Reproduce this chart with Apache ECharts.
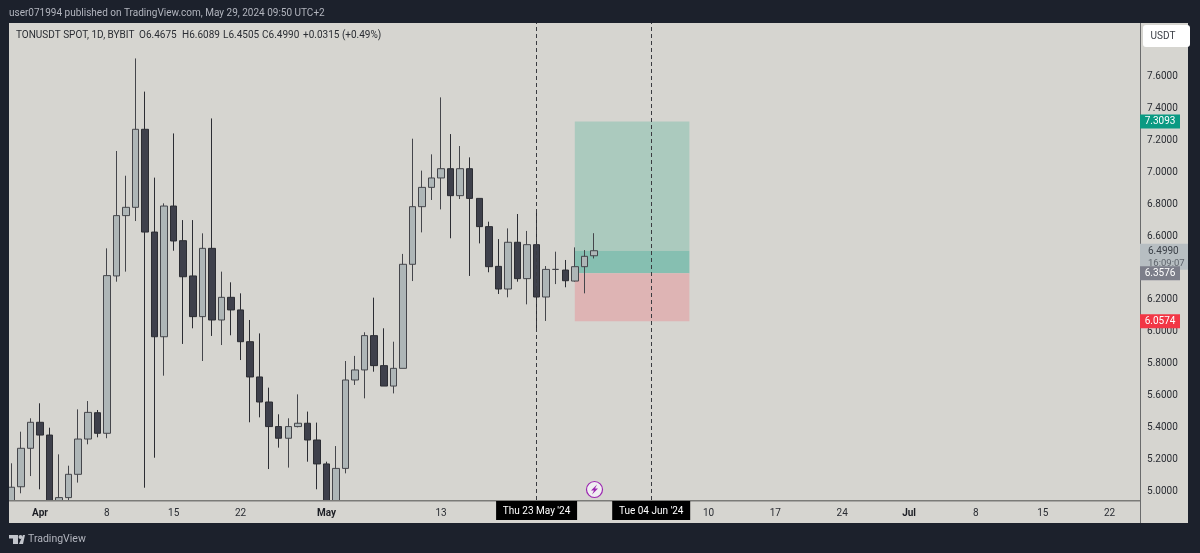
<!DOCTYPE html>
<html>

<head>
  <meta charset="UTF-8">
  <title>TONUSDT SPOT, 1D, BYBIT</title>
  <script src="https://cdn.jsdelivr.net/npm/echarts@6/dist/echarts.min.js"></script>
  <style>
    * {
      box-sizing: border-box;
    }

    body {
      margin: 0;
      padding: 0;
      background: #1c212c;
    }

    #chart {
      width: 1200px;
      height: 553px;
    }
  </style>
</head>

<body>
  <div id="chart"></div>

  <script>
    // daily candles, first one is 29 Mar 2024
    var opens = [4.86, 5.020, 5.261, 5.424, 5.344, 4.90, 4.952, 5.098, 5.319, 5.484, 5.355, 6.341, 6.719, 6.771, 7.260, 6.616, 5.960, 6.779, 6.562, 6.341, 6.086, 6.514, 6.065, 6.207, 6.128, 5.929, 5.708, 5.551, 5.397, 5.324, 5.397, 5.418, 5.313, 5.163, 4.91, 5.135, 5.689, 5.752, 5.967, 5.779, 5.651, 5.762, 6.414, 6.775, 6.896, 6.955, 7.013, 6.844, 7.013, 6.827, 6.650, 6.401, 6.259, 6.552, 6.324, 6.537, 6.209, 6.382, 6.378, 6.309, 6.399, 6.4675];
    var closes = [5.017, 5.261, 5.424, 5.344, 4.90, 4.952, 5.098, 5.319, 5.486, 5.355, 6.343, 6.719, 6.771, 7.260, 6.616, 5.960, 6.779, 6.560, 6.336, 6.086, 6.514, 6.065, 6.207, 6.128, 5.929, 5.708, 5.551, 5.397, 5.324, 5.397, 5.418, 5.313, 5.163, 4.91, 5.135, 5.689, 5.752, 5.967, 5.779, 5.651, 5.762, 6.414, 6.775, 6.896, 6.955, 7.013, 6.844, 7.013, 6.827, 6.650, 6.399, 6.259, 6.552, 6.324, 6.537, 6.209, 6.382, 6.382, 6.311, 6.399, 6.464, 6.4990];
    var lows = [4.80, 4.979, 5.087, 5.004, 4.85, 4.85, 4.931, 5.046, 5.286, 5.330, 5.324, 6.305, 6.368, 6.685, 5.014, 5.202, 5.716, 6.499, 5.915, 6.013, 5.808, 5.965, 5.908, 5.969, 5.814, 5.424, 5.455, 5.131, 5.265, 5.140, 5.392, 5.177, 5.004, 4.88, 4.88, 5.104, 5.658, 5.574, 5.741, 5.651, 5.605, 5.762, 6.309, 6.614, 6.817, 6.758, 6.577, 6.823, 6.341, 6.545, 6.364, 6.228, 6.207, 6.305, 6.163, 5.998, 6.059, 6.290, 6.270, 6.305, 6.232, 6.4505];
    var highs = [5.167, 5.365, 5.449, 5.543, 5.390, 5.223, 5.152, 5.505, 5.557, 5.501, 6.514, 7.124, 6.969, 7.704, 7.496, 6.957, 6.796, 7.234, 6.691, 6.691, 6.608, 7.328, 6.368, 6.301, 6.232, 6.065, 5.981, 5.641, 5.474, 5.449, 5.599, 5.491, 5.422, 5.177, 5.275, 5.808, 5.840, 5.988, 6.205, 6.013, 5.929, 6.479, 7.201, 7.001, 7.103, 7.460, 7.230, 7.155, 7.084, 6.827, 6.681, 6.572, 6.639, 6.729, 6.623, 6.744, 6.403, 6.493, 6.441, 6.520, 6.503, 6.6089];

    var priceTicks = [5.0, 5.2, 5.4, 5.6, 5.8, 6.0, 6.2, 6.4, 6.6, 6.8, 7.0, 7.2, 7.4, 7.6];
    var timeTickDates = ['2024-04-01', '2024-04-08', '2024-04-15', '2024-04-22', '2024-05-01', '2024-05-13', '2024-06-10', '2024-06-17', '2024-06-24', '2024-07-01', '2024-07-08', '2024-07-15', '2024-07-22'];
    var timeTickLabels = ['Apr', '8', '15', '22', 'May', '13', '10', '17', '24', 'Jul', '8', '15', '22'];

    // legend line pieces
    var legendTexts = ['TONUSDT SPOT, 1D, BYBIT', 'O6.4675', 'H6.6089', 'L6.4505', 'C6.4990', '+0.0315 (+0.49%)'];
    var legendLefts = [16, 139, 182, 223, 262, 303];

    // long position tool
    var targetPrice = 7.3093;
    var entryPrice = 6.3576;
    var stopPrice = 6.0574;
    var lastPrice = 6.4990;
    var positionDates = ['2024-05-27', '2024-06-08'];

    var crosshairDates = ['2024-05-23', '2024-06-04'];
    var crosshairTexts = ["Thu 23 May '24", "Tue 04 Jun '24"];

    var badgePrices = [targetPrice, entryPrice, stopPrice];
    var badgeTexts = ['7.3093', '6.3576', '6.0574'];
    var badgeColors = ['#0a9a82', '#7c7e8a', '#f23645'];

    var font = 'Roboto, sans-serif';
    var dates = [];
    for (var i = 0; i < 119; i++) {
      dates.push(new Date(Date.UTC(2024, 2, 29 + i)).toISOString().slice(0, 10));
    }
    var candles = opens.map(function (o, i) {
      return [o, closes[i], lows[i], highs[i]];
    });

    var chart = echarts.init(document.getElementById('chart'), null, { renderer: 'canvas' });

    function renderPriceBadge(params, api) {
      var y = api.coord([0, api.value(1)])[1];
      var x = 1140;
      return {
        type: 'group',
        children: [
          { type: 'rect', shape: { x: x, y: y - 7, width: 40, height: 14 }, style: { fill: badgeColors[params.dataIndex] } },
          { type: 'text', style: { x: x + 20, y: y + 0.5, text: badgeTexts[params.dataIndex], fill: '#fff', font: '10px ' + font, align: 'center', verticalAlign: 'middle' } }
        ]
      };
    }

    function renderLastBadge(params, api) {
      var y = api.coord([0, api.value(1)])[1];
      var x = 1140;
      return {
        type: 'group',
        children: [
          { type: 'rect', shape: { x: x, y: y - 7, width: 48, height: 26 }, style: { fill: '#b7bec2' } },
          { type: 'text', style: { x: x + 8, y: y + 0.5, text: lastPrice.toFixed(4), fill: '#3b4048', font: '10px ' + font, verticalAlign: 'middle' } },
          { type: 'text', style: { x: x + 8, y: y + 12.5, text: '16:09:07', fill: '#5d636b', font: '9.5px ' + font, verticalAlign: 'middle' } }
        ]
      };
    }

    function renderDateBadge(params, api) {
      var x = api.coord([api.value(0), 5])[0];
      var w = params.dataIndex === 0 ? 81 : 78;
      return {
        type: 'group',
        children: [
          { type: 'rect', shape: { x: x - w / 2, y: 501, width: w, height: 19 }, style: { fill: '#000' } },
          { type: 'text', style: { x: x, y: 511, text: crosshairTexts[params.dataIndex], fill: '#fff', font: '10px ' + font, align: 'center', verticalAlign: 'middle' } }
        ]
      };
    }

    var legendElements = legendTexts.map(function (t, i) {
      return { type: 'text', z: 101, style: { x: legendLefts[i], y: 35.5, text: t, fill: '#2a2d33', font: '10px ' + font, verticalAlign: 'middle' } };
    });

    var option = {
      animation: false,
      backgroundColor: '#d6d5d0',
      grid: { left: 6.575, width: 1136.45, top: 23, height: 477 },
      xAxis: {
        type: 'category',
        data: dates,
        boundaryGap: true,
        z: 50,
        axisLine: { show: false },
        axisTick: { show: false },
        splitLine: { show: false },
        axisLabel: {
          margin: 8,
          color: '#2a2d33',
          fontSize: 10,
          fontFamily: font,
          interval: function (index, value) {
            return timeTickDates.indexOf(value) >= 0;
          },
          formatter: function (value) {
            var label = timeTickLabels[timeTickDates.indexOf(value)];
            return /[A-Za-z]/.test(label) ? '{b|' + label + '}' : label;
          },
          rich: { b: { fontWeight: 'bold', fontSize: 10, color: '#1c1e24', fontFamily: font } }
        }
      },
      yAxis: {
        type: 'value',
        position: 'right',
        scale: true,
        min: 4.937,
        max: 7.926,
        axisLine: { show: false },
        axisTick: { show: false },
        splitLine: { show: false },
        axisLabel: {
          margin: 4,
          customValues: priceTicks,
          formatter: function (value) {
            return '{p|' + value.toFixed(4) + '}';
          },
          rich: { p: { color: '#2a2d33', fontSize: 10, fontFamily: font, padding: [3, 0, 0, 0] } }
        }
      },
      series: [
        {
          // position boxes sit under the candles
          type: 'line',
          data: [],
          z: 1,
          silent: true,
          markArea: {
            silent: true,
            data: [
              [{ xAxis: positionDates[0], yAxis: targetPrice, itemStyle: { color: '#abcabe', opacity: 1 } }, { xAxis: positionDates[1], yAxis: lastPrice }],
              [{ xAxis: positionDates[0], yAxis: lastPrice, itemStyle: { color: '#86bfb1', opacity: 1 } }, { xAxis: positionDates[1], yAxis: entryPrice }],
              [{ xAxis: positionDates[0], yAxis: entryPrice, itemStyle: { color: '#deb4b4', opacity: 1 } }, { xAxis: positionDates[1], yAxis: stopPrice }]
            ]
          }
        },
        {
          type: 'candlestick',
          data: candles,
          z: 2,
          barWidth: 7,
          itemStyle: {
            color: '#aeb6b7',
            color0: '#3e404b',
            borderColor: '#45464b',
            borderColor0: '#2c2d33',
            borderWidth: 1
          }
        },
        {
          type: 'line',
          data: [],
          z: 3,
          silent: true,
          markLine: {
            silent: true,
            symbol: 'none',
            label: { show: false },
            lineStyle: { color: '#3a3b40', type: [4, 3], width: 1 },
            data: crosshairDates.map(function (d) {
              return { xAxis: d };
            })
          }
        },
        {
          type: 'custom',
          z: 60,
          silent: true,
          encode: { x: 0, y: 1 },
          data: [[0, lastPrice]],
          renderItem: renderLastBadge
        },
        {
          type: 'custom',
          z: 61,
          silent: true,
          encode: { x: 0, y: 1 },
          data: badgePrices.map(function (p) {
            return [0, p];
          }),
          renderItem: renderPriceBadge
        },
        {
          type: 'custom',
          z: 61,
          silent: true,
          encode: { x: 0, y: 1 },
          data: crosshairDates.map(function (d) {
            return [d, 5];
          }),
          renderItem: renderDateBadge
        }
      ],
      graphic: {
        elements: [
          // time scale strip hides what runs below the pane
          { type: 'rect', z: 30, shape: { x: 9, y: 500, width: 1131, height: 23 }, style: { fill: '#d6d5d0' } },
          // dark frame around the panel
          { type: 'rect', z: 100, shape: { x: 0, y: 0, width: 1200, height: 23 }, style: { fill: '#1c212c' } },
          { type: 'rect', z: 100, shape: { x: 0, y: 523, width: 1200, height: 30 }, style: { fill: '#1c212c' } },
          { type: 'rect', z: 100, shape: { x: 0, y: 0, width: 9, height: 553 }, style: { fill: '#1c212c' } },
          { type: 'rect', z: 100, shape: { x: 1188, y: 0, width: 12, height: 553 }, style: { fill: '#1c212c' } },
          // scale separators
          { type: 'rect', z: 31, shape: { x: 9, y: 500, width: 1131, height: 1.5 }, style: { fill: '#7b7b78' } },
          { type: 'rect', z: 31, shape: { x: 1140, y: 23, width: 1, height: 500 }, style: { fill: '#6a6b6c' } },
          // header
          { type: 'text', z: 101, style: { x: 9, y: 13, text: 'user071994 published on TradingView.com, May 29, 2024 09:50 UTC+2', fill: '#b2b5be', font: '10px ' + font, verticalAlign: 'middle' } },
          // currency button
          { type: 'rect', z: 101, shape: { x: 1143, y: 25, width: 47, height: 22, r: 3 }, style: { fill: '#fff' } },
          { type: 'text', z: 102, style: { x: 1163, y: 36, text: 'USDT', fill: '#3b3e46', font: '10px ' + font, align: 'center', verticalAlign: 'middle' } },
          // lightning marker
          { type: 'circle', z: 20, shape: { cx: 594.5, cy: 489.5, r: 8 }, style: { fill: '#f0eef2', stroke: '#9c27b0', lineWidth: 1.2 } },
          { type: 'polygon', z: 21, shape: { points: [[597, 484.5], [591, 490.5], [594, 490.5], [592, 494.5], [598, 488.5], [595, 488.5]] }, style: { fill: '#9c27b0' } },
          // logo
          { type: 'rect', z: 101, shape: { x: 9, y: 535, width: 9, height: 3.5 }, style: { fill: '#c2c5cc' } },
          { type: 'rect', z: 101, shape: { x: 13, y: 535, width: 5, height: 9 }, style: { fill: '#c2c5cc' } },
          { type: 'circle', z: 101, shape: { cx: 20.5, cy: 537, r: 2 }, style: { fill: '#c2c5cc' } },
          { type: 'polygon', z: 101, shape: { points: [[19, 544], [23, 535], [25, 535], [23, 544]] }, style: { fill: '#c2c5cc' } },
          { type: 'text', z: 101, style: { x: 28, y: 539, text: 'TradingView', fill: '#b2b5be', font: '10.5px ' + font, verticalAlign: 'middle' } }
        ].concat(legendElements)
      }
    };

    chart.setOption(option);
  </script>
</body>

</html>
